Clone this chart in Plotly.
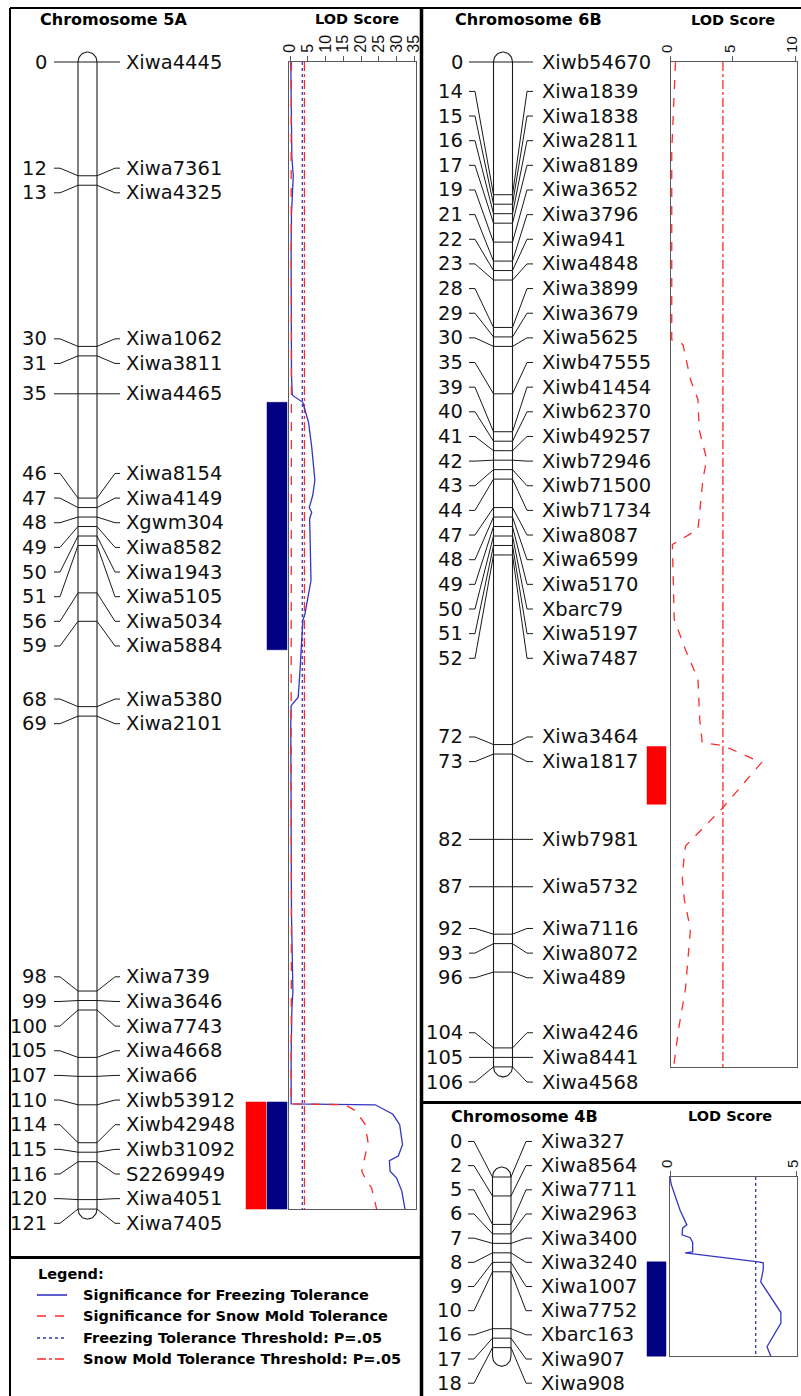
import numpy as np
import plotly.graph_objects as go

# ---------------- data ----------------
chr5a_cm = [0, 12, 13, 30, 31, 35, 46, 47, 48, 49, 50, 51, 56, 59, 68, 69,
            98, 99, 100, 105, 107, 110, 114, 115, 116, 120, 121]
chr5a_markers = ["Xiwa4445", "Xiwa7361", "Xiwa4325", "Xiwa1062", "Xiwa3811", "Xiwa4465",
                 "Xiwa8154", "Xiwa4149", "Xgwm304", "Xiwa8582", "Xiwa1943", "Xiwa5105",
                 "Xiwa5034", "Xiwa5884", "Xiwa5380", "Xiwa2101", "Xiwa739", "Xiwa3646",
                 "Xiwa7743", "Xiwa4668", "Xiwa66", "Xiwb53912", "Xiwb42948", "Xiwb31092",
                 "S2269949", "Xiwa4051", "Xiwa7405"]
chr5a_length = 121

chr6b_cm = [0, 14, 15, 16, 17, 19, 21, 22, 23, 28, 29, 30, 35, 39, 40, 41, 42, 43, 44,
            47, 48, 49, 50, 51, 52, 72, 73, 82, 87, 92, 93, 96, 104, 105, 106]
chr6b_markers = ["Xiwb54670", "Xiwa1839", "Xiwa1838", "Xiwa2811", "Xiwa8189", "Xiwa3652",
                 "Xiwa3796", "Xiwa941", "Xiwa4848", "Xiwa3899", "Xiwa3679", "Xiwa5625",
                 "Xiwb47555", "Xiwb41454", "Xiwb62370", "Xiwb49257", "Xiwb72946",
                 "Xiwb71500", "Xiwb71734", "Xiwa8087", "Xiwa6599", "Xiwa5170", "Xbarc79",
                 "Xiwa5197", "Xiwa7487", "Xiwa3464", "Xiwa1817", "Xiwb7981", "Xiwa5732",
                 "Xiwa7116", "Xiwa8072", "Xiwa489", "Xiwa4246", "Xiwa8441", "Xiwa4568"]
chr6b_length = 106

chr4b_cm = [0, 2, 5, 6, 7, 8, 9, 10, 16, 17, 18]
chr4b_markers = ["Xiwa327", "Xiwa8564", "Xiwa7711", "Xiwa2963", "Xiwa3400", "Xiwa3240",
                 "Xiwa1007", "Xiwa7752", "Xbarc163", "Xiwa907", "Xiwa908"]
chr4b_length = 18.9

# QTL intervals (cM)
qtl5a_frz_start = [35.9, 109.7]
qtl5a_frz_end = [62.0, 121.0]
qtl5a_snow_start = [109.7]
qtl5a_snow_end = [121.0]
qtl6b_snow_start = [72.2]
qtl6b_snow_end = [78.3]
qtl4b_frz_start = [8.95]
qtl4b_frz_end = [18.9]

# LOD profiles
lod5a_frz_cm = [0, 5, 10, 12, 13, 16, 20, 25, 30, 33, 35, 35.2, 35.9, 38, 40.6, 44.1, 45.7,
                47, 47.5, 48.2, 49.4, 54.7, 58.2, 58.9, 64.2, 67, 67.9, 70, 80, 90, 98,
                100, 105, 109.9, 110, 111, 112.1, 114.2, 115.4, 115.9, 117, 117.7, 119.1, 121]
lod5a_frz = [0.2, 0.3, 0.5, 0.9, 0.8, 0.4, 0.3, 0.3, 0.5, 0.4, 0.6, 0.8, 3.6, 5.2, 6.1, 7.0,
             6.4, 5.4, 6.1, 5.5, 5.6, 5.9, 4.2, 3.6, 2.8, 2.3, 0.3, 0.2, 0.3, 0.4, 0.8,
             0.5, 0.3, 0.3, 24.0, 29.0, 30.9, 31.7, 30.5, 28.0, 28.2, 30.0, 31.5, 32.4]
lod5a_snow_cm = [0, 10, 30, 50, 70, 90, 100, 109.9, 110, 110.6, 112, 114, 115.5, 117,
                 117.7, 118.8, 121]
lod5a_snow = [0.4, 0.3, 0.4, 0.3, 0.3, 0.4, 0.3, 0.3, 15.5, 18.3, 21.1, 22.0, 21.1, 20.2,
              21.1, 23.0, 24.4]
lod6b_snow_cm = [0, 4, 9.3, 29.3, 29.8, 33.5, 35.6, 38.8, 41.9, 44, 46.7, 49.3, 50.9, 58.8,
                 62, 65.1, 69.3, 71.8, 72.1, 73.9, 78.8, 82.7, 84.1, 86.2, 88.3, 91.5,
                 94.6, 97.8, 102, 106]
lod6b_snow = [0.4, 0.25, 0.1, 0.1, 1.0, 1.6, 2.2, 2.3, 2.9, 2.6, 2.4, 2.2, 0.15, 0.3,
              1.2, 2.2, 2.34, 2.54, 4.2, 7.3, 4.1, 1.2, 1.07, 0.95, 1.1, 1.6, 1.4, 1.2,
              0.65, 0.25]
lod4b_frz_cm = [0, 0.8, 3.5, 5.05, 5.4, 6.1, 6.4, 6.9, 7.9, 8.0, 8.95, 9.05, 9.8, 11.05,
                14.3, 15.4, 17.9, 18.9]
lod4b_frz = [0, 0.05, 0.4, 0.67, 0.5, 0.48, 0.8, 0.9, 0.9, 0.6, 3.5, 3.7, 3.7, 3.6, 4.4,
             4.4, 3.85, 4.0]

thr5a_frz = 3.45
thr5a_snow = 4.05
thr6b_snow = 4.2
thr4b_frz = 3.4

lod_ticks_5a = [0, 5, 10, 15, 20, 25, 30, 35]
lod_ticks_6b = [0, 5, 10]
lod_ticks_4b = [0, 5]

legend_items = ["Significance for Freezing Tolerance",
                "Significance for Snow Mold Tolerance",
                "Freezing Tolerance Threshold: P=.05",
                "Snow Mold Tolerance Threshold: P=.05"]

# ---------------- layout constants ----------------
W, H = 801, 1396
PX = 9.48            # pixels per cM
TOP_A = 62           # pixel row of 0 cM for 5A and 6B
TOP_B = 1177         # pixel row of 0 cM for 4B
CAP = 10             # chromosome end cap height (px)

BLUE = "#3535c4"
RED = "#ff2a2a"
NAVY = "#000080"
QRED = "#ff0000"
BOXC = "#5a5a5a"
LBL_FONT = dict(family="DejaVu Sans", size=19.5, color="#111111")
BOLD = "DejaVu Sans"


def pxx(x):
    return x / W


def pxy(y):
    return 1 - y / H


def spread(pos, d):
    groups = [[i] for i in range(len(pos))]

    def place(g):
        c = (pos[g[0]] + pos[g[-1]]) / 2
        n = len(g)
        return [c + (k - (n - 1) / 2) * d for k in range(n)]

    changed = True
    while changed:
        changed = False
        for j in range(len(groups) - 1):
            a = place(groups[j])
            b = place(groups[j + 1])
            if b[0] - a[-1] < d - 1e-9:
                groups[j] = groups[j] + groups[j + 1]
                del groups[j + 1]
                changed = True
                break
    out = []
    for g in groups:
        out += place(g)
    return out


fig = go.Figure()
annotations = []
shapes = []


def draw_chrom(cm, names, length, yref, xl, xr, num_right, x_start, x_bend_l,
               x_bend_r, x_end, name_left, d):
    lab = spread(cm, d)
    xs, ys = [], []
    for p, l in zip(cm, lab):
        xs += [x_start, x_bend_l, xl, xr, x_bend_r, x_end, None]
        ys += [l, l, p, p, l, l, None]
    fig.add_trace(go.Scatter(x=xs, y=ys, mode="lines", xaxis="x", yaxis=yref,
                             line=dict(color="#1a1a1a", width=1), hoverinfo="skip",
                             showlegend=False))
    xc = (xl + xr) / 2
    rx = (xr - xl) / 2
    rc = CAP / PX
    t = np.linspace(np.pi, 0, 30)
    ox = list(xc + rx * np.cos(t)) + [xr]
    oy = list(-rc * np.sin(t)) + [length]
    t2 = np.linspace(0, np.pi, 30)
    ox += list(xc + rx * np.cos(t2)) + [xl]
    oy += list(length + rc * np.sin(t2)) + [0]
    fig.add_trace(go.Scatter(x=ox, y=oy, mode="lines", xaxis="x", yaxis=yref,
                             line=dict(color="#1a1a1a", width=1.1), hoverinfo="skip",
                             showlegend=False))
    for p, l, n in zip(cm, lab, names):
        annotations.append(dict(x=num_right, y=l, xref="x", yref=yref, text=str(int(p)),
                                showarrow=False, xanchor="right", yanchor="middle",
                                font=LBL_FONT, borderpad=0))
        annotations.append(dict(x=name_left, y=l, xref="x", yref=yref, text=n,
                                showarrow=False, xanchor="left", yanchor="middle",
                                font=LBL_FONT, borderpad=0))


def qtl_bars(starts, ends, x0, x1, color, yref):
    xs, ys = [], []
    for s, e in zip(starts, ends):
        xs += [x0, x1, x1, x0, x0, None]
        ys += [s, s, e, e, s, None]
    fig.add_trace(go.Scatter(x=xs, y=ys, mode="lines", fill="toself", fillcolor=color,
                             line=dict(color=color, width=0.5), xaxis="x", yaxis=yref,
                             hoverinfo="skip", showlegend=False))


# chromosomes
draw_chrom(chr5a_cm, chr5a_markers, chr5a_length, "y", 78, 97, 48, 54, 60, 115, 120, 125, 2.6)
draw_chrom(chr6b_cm, chr6b_markers, chr6b_length, "y", 493.5, 512.5, 464, 469, 475, 527, 533, 541, 2.6)
draw_chrom(chr4b_cm, chr4b_markers, chr4b_length, "y2", 492.5, 511, 463, 468, 474, 526, 532, 540, 2.55)

# QTL bars
qtl_bars(qtl5a_snow_start, qtl5a_snow_end, 246, 266, QRED, "y")
qtl_bars(qtl5a_frz_start, qtl5a_frz_end, 267, 287, NAVY, "y")
qtl_bars(qtl6b_snow_start, qtl6b_snow_end, 647, 666, QRED, "y")
qtl_bars(qtl4b_frz_start, qtl4b_frz_end, 647, 666, NAVY, "y2")


def vline(val, length, color, dash, xa, ya):
    fig.add_trace(go.Scatter(x=[val, val], y=[0, length], mode="lines", xaxis=xa, yaxis=ya,
                             line=dict(color=color, width=1.3, dash=dash),
                             hoverinfo="skip", showlegend=False))


def curve(x, y, color, dash, xa, ya):
    fig.add_trace(go.Scatter(x=x, y=y, mode="lines", xaxis=xa, yaxis=ya,
                             line=dict(color=color, width=1.3, dash=dash),
                             hoverinfo="skip", showlegend=False))


# 5A LOD
vline(thr5a_frz, chr5a_length, BLUE, "dot", "x2", "y3")
vline(thr5a_snow, chr5a_length, RED, "dashdot", "x2", "y3")
curve(lod5a_frz, lod5a_frz_cm, BLUE, "solid", "x2", "y3")
curve(lod5a_snow, lod5a_snow_cm, RED, "dash", "x2", "y3")
# 6B LOD
vline(thr6b_snow, chr6b_length, RED, "dashdot", "x3", "y4")
curve(lod6b_snow, lod6b_snow_cm, RED, "dash", "x3", "y4")
# 4B LOD
vline(thr4b_frz, chr4b_length, BLUE, "dot", "x4", "y5")
curve(lod4b_frz, lod4b_frz_cm, BLUE, "solid", "x4", "y5")

# titles
def ptext(x, y, text, size, anchor="left", bold=True):
    annotations.append(dict(x=pxx(x), y=pxy(y), xref="paper", yref="paper",
                            text=f"<b>{text}</b>" if bold else text, showarrow=False,
                            xanchor=anchor, yanchor="middle",
                            font=dict(family=BOLD, size=size, color="#000000")))


ptext(38, 19, "Chromosome 5A", 16)
ptext(453, 20, "Chromosome 6B", 16)
ptext(449, 1116, "Chromosome 4B", 16)
ptext(357, 19, "LOD Score", 14.5, "center")
ptext(733, 20, "LOD Score", 14.5, "center")
ptext(730, 1116, "LOD Score", 14.5, "center")

# legend
ptext(36, 1274, "Legend:", 14.5)
leg_styles = [(BLUE, "solid"), (RED, "dash"), (BLUE, "dot"), (RED, "dashdot")]
leg_y = [1295, 1316, 1338, 1359]
for (c, dsh), yy, txt in zip(leg_styles, leg_y, legend_items):
    shapes.append(dict(type="line", xref="paper", yref="paper", x0=pxx(37), x1=pxx(67),
                       y0=pxy(yy), y1=pxy(yy), line=dict(color=c, width=1.6, dash=dsh)))
    ptext(81, yy, txt, 14.5)

# panel borders
def border(x0, y0, x1, y1, w):
    shapes.append(dict(type="line", xref="paper", yref="paper", x0=pxx(x0), x1=pxx(x1),
                       y0=pxy(y0), y1=pxy(y1), line=dict(color="#000000", width=w)))


border(10, 8, 801, 8, 2)
border(10, 8, 10, 1396, 2)
border(421.5, 8, 421.5, 1396, 3.5)
border(10, 1257.5, 421.5, 1257.5, 2.8)
border(421.5, 1102.5, 801, 1102.5, 2.8)


def lod_x(dom, rng, ticks, anchor, size=16, shift=0):
    return dict(domain=dom, range=rng, anchor=anchor, side="top", tickvals=ticks,
                ticktext=[str(t) for t in ticks], ticks="outside", ticklen=5,
                tickcolor=BOXC, tickangle=-90, showline=True, mirror=True,
                linecolor=BOXC, linewidth=1.2, showgrid=False, zeroline=False,
                tickfont=dict(family="Liberation Sans, Arial", size=size, color="#111111"),
                fixedrange=True, automargin=False, ticklabeloverflow="allow",
                ticklabelshift=shift)


def lod_y(dom, rng, anchor):
    return dict(domain=dom, range=rng, anchor=anchor, showline=True, mirror=True,
                linecolor=BOXC, linewidth=1.2, showgrid=False, zeroline=False,
                showticklabels=False, ticks="", fixedrange=True, automargin=False)


fig.update_layout(
    width=W, height=H, autosize=False, margin=dict(l=0, r=0, t=0, b=0, pad=0),
    paper_bgcolor="white", plot_bgcolor="rgba(0,0,0,0)", showlegend=False,
    xaxis=dict(domain=[0, 1], range=[0, W], visible=False, fixedrange=True),
    yaxis=dict(domain=[0, 1], range=[(H - TOP_A) / PX, -TOP_A / PX], visible=False,
               fixedrange=True),
    yaxis2=dict(domain=[0, 1], range=[(H - TOP_B) / PX, -TOP_B / PX], visible=False,
                overlaying="y", anchor="x", fixedrange=True),
    xaxis2=lod_x([pxx(289), pxx(416)], [-0.3, 35.5], lod_ticks_5a, "y3"),
    yaxis3=lod_y([pxy(TOP_A + chr5a_length * PX), pxy(TOP_A)], [chr5a_length, 0], "x2"),
    xaxis3=lod_x([pxx(670.5), pxx(796.5)], [0, 10.1], lod_ticks_6b, "y4", 15, -3),
    yaxis4=lod_y([pxy(TOP_A + chr6b_length * PX), pxy(TOP_A)], [chr6b_length, 0], "x3"),
    xaxis4=lod_x([pxx(670), pxx(796.5)], [0, 5.02], lod_ticks_4b, "y5", 15, -3),
    yaxis5=lod_y([pxy(TOP_B + chr4b_length * PX), pxy(TOP_B)], [chr4b_length, 0], "x4"),
    annotations=annotations, shapes=shapes,
)

fig.write_html(
    "out.html",
    config={"displayModeBar": False, "responsive": False},
    post_script=(
        "document.documentElement.style.margin='0';"
        "document.documentElement.style.padding='0';"
        "document.documentElement.style.overflow='hidden';"
        "document.body.style.margin='0';"
        "document.body.style.padding='0';"
        "document.body.style.overflow='hidden';"
        "var gd=document.getElementById('{plot_id}');"
        "gd.style.position='absolute';gd.style.left='0px';gd.style.top='0px';"
    ),
)
